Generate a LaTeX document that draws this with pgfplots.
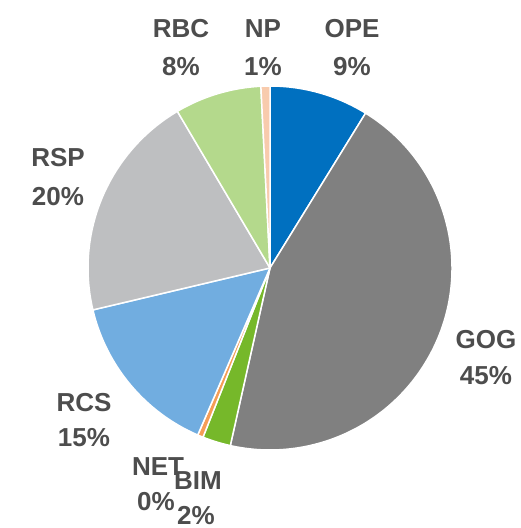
\documentclass[border=0pt]{standalone}
\usepackage{pgfplots}
\pgfplotsset{compat=1.18}
\usepackage{pgfplotstable}
\usepackage{fontspec}
\setmainfont{Liberation Sans}
\definecolor{cOPE}{HTML}{0070C0}
\definecolor{cGOG}{HTML}{808080}
\definecolor{cBIM}{HTML}{76B82A}
\definecolor{cNET}{HTML}{F59D56}
\definecolor{cRCS}{HTML}{71ADE0}
\definecolor{cRSP}{HTML}{BEBFC1}
\definecolor{cRBC}{HTML}{B4D98C}
\definecolor{cNP}{HTML}{F8CBAD}
\definecolor{txt}{HTML}{4D4D4D}
\pgfplotstableread{
name value color
OPE 8.8 cOPE
GOG 44.7 cGOG
BIM 2.5 cBIM
NET 0.5 cNET
RCS 14.8 cRCS
RSP 20.2 cRSP
RBC 7.7 cRBC
NP 0.8 cNP
}\piedata
\begin{document}
\begin{tikzpicture}
\begin{axis}[
  x=1pt, y=1pt,
  xmin=0, xmax=521, ymin=0, ymax=528,
  hide axis, clip=false,
]
\path (axis cs:0,0) rectangle (axis cs:521,528);
\pgfplotsextra{
  \def\cum{0}
  \pgfplotsforeachungrouped \i in {0,...,7} {
    \pgfplotstablegetelem{\i}{value}\of\piedata \let\v\pgfplotsretval
    \pgfplotstablegetelem{\i}{color}\of\piedata \let\c\pgfplotsretval
    \pgfmathsetmacro\sa{90-3.6*\cum}
    \pgfmathsetmacro\ea{90-3.6*(\cum+\v)}
    \fill[\c, draw=white, line width=1.5pt, line join=round] (axis cs:270,260) -- ++(\sa:182pt) arc[start angle=\sa, end angle=\ea, radius=182pt] -- cycle;
    \pgfmathsetmacro\cum{\cum+\v}
  }
}
\tikzset{lab/.style={anchor=base, text=txt, font=\fontsize{26}{30}\selectfont\bfseries, inner sep=0pt}}
\node[lab] at (axis cs:181,490) {RBC};
\node[lab] at (axis cs:181,452) {8\%};
\node[lab] at (axis cs:263,490) {NP};
\node[lab] at (axis cs:263,452) {1\%};
\node[lab] at (axis cs:352,490) {OPE};
\node[lab] at (axis cs:352,452) {9\%};
\node[lab] at (axis cs:58,361) {RSP};
\node[lab] at (axis cs:58,322) {20\%};
\node[lab] at (axis cs:486,179) {GOG};
\node[lab] at (axis cs:486,143) {45\%};
\node[lab] at (axis cs:84,116) {RCS};
\node[lab] at (axis cs:84,81) {15\%};
\node[lab] at (axis cs:158,52) {NET};
\node[lab] at (axis cs:156,17) {0\%};
\node[lab] at (axis cs:198,38) {BIM};
\node[lab] at (axis cs:196,4) {2\%};
\end{axis}
\end{tikzpicture}
\end{document}
